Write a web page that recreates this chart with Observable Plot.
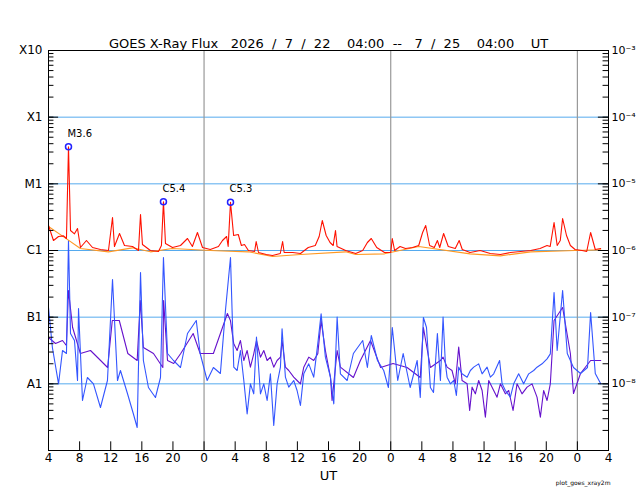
<!DOCTYPE html>
<html><head><meta charset="utf-8">
<script src="https://cdn.jsdelivr.net/npm/d3@7"></script>
<script src="https://cdn.jsdelivr.net/npm/@observablehq/plot@0.6"></script>
<style>body{margin:0;background:#fff;font-family:"DejaVu Sans",sans-serif}</style>
</head><body><div id="c"></div>
<script>
// [hours since 2026-07-22 04:00 UT, log10 flux W/m^2]
const longA = [[0,-5.625],[0.64,-5.85],[1.29,-5.79],[1.93,-5.78],[2.31,-5.82],[2.57,-4.444],[2.83,-5.70],[3.34,-5.75],[3.73,-5.67],[4.11,-5.955],[4.88,-5.85],[5.66,-5.955],[6.68,-5.985],[7.71,-6.0],[8.23,-5.505],[8.48,-5.94],[9.13,-5.745],[9.77,-5.925],[10.8,-5.94],[11.57,-6.0],[11.83,-5.46],[12.08,-5.91],[13.1,-6.0],[14.14,-6.015],[14.52,-5.925],[14.78,-5.268],[15.04,-5.895],[15.94,-5.955],[16.97,-5.925],[17.87,-5.82],[18.5,-5.94],[19.15,-5.73],[19.8,-5.955],[20.8,-5.985],[21.85,-5.94],[22.37,-5.85],[22.9,-5.79],[23.1,-5.94],[23.4,-5.276],[23.8,-5.775],[24.4,-5.76],[24.8,-5.925],[25.2,-5.91],[25.7,-6.0],[26.5,-6.015],[26.7,-5.865],[27.0,-6.03],[28.0,-6.06],[28.8,-6.075],[29.8,-6.045],[30.1,-5.865],[30.3,-6.03],[31.4,-6.03],[32.4,-6.045],[33.4,-5.955],[34.3,-5.925],[34.8,-5.79],[35.2,-5.55],[35.7,-5.775],[36.2,-5.88],[36.6,-5.925],[36.9,-5.70],[37.1,-5.94],[38.2,-6.0],[39.5,-6.045],[40.4,-6.0],[41.0,-5.88],[41.5,-5.82],[42.2,-5.955],[43.2,-6.03],[44.0,-6.03],[44.2,-5.82],[44.5,-6.0],[45.2,-5.94],[45.9,-5.97],[46.8,-5.955],[47.6,-5.925],[48.1,-5.73],[48.5,-5.625],[49.0,-5.925],[49.6,-5.955],[50.0,-5.85],[50.3,-5.955],[50.8,-5.745],[51.4,-5.94],[52.3,-5.97],[52.8,-5.85],[53.2,-5.985],[54.2,-6.03],[55.5,-6.0],[56.8,-6.045],[58.1,-6.06],[59.4,-6.03],[60.7,-6.015],[62.0,-6.0],[63.2,-5.97],[64.1,-5.925],[64.5,-5.94],[65.0,-5.58],[65.4,-5.925],[65.8,-5.85],[66.1,-5.52],[66.6,-5.775],[67.1,-5.925],[67.7,-5.985],[68.6,-6.0],[69.2,-6.015],[69.7,-5.73],[70.3,-5.985],[71.0,-5.97]];
const longB = [[0,-5.64],[2.0,-5.80],[4.1,-5.97],[7.7,-6.02],[10.8,-5.96],[13.1,-6.02],[15.9,-5.97],[20.8,-6.0],[25.7,-6.02],[28.8,-6.09],[32.4,-6.06],[38.2,-6.02],[39.5,-6.06],[43.2,-6.05],[47.6,-5.94],[54.2,-6.05],[58.1,-6.08],[62.0,-6.02],[67.7,-6.0],[71.0,-5.99]];
const shortA = [[0,-6.855],[0.5,-7.455],[1.29,-8.0],[1.8,-7.5],[2.31,-7.545],[2.57,-5.85],[2.83,-7.245],[3.34,-7.35],[3.73,-7.95],[3.86,-6.87],[4.37,-8.25],[5.0,-7.905],[5.78,-8.0],[6.68,-8.355],[7.58,-7.95],[8.23,-6.435],[8.87,-7.95],[9.25,-7.8],[10.15,-8.145],[10.9,-8.445],[11.4,-8.655],[11.83,-6.33],[12.2,-7.65],[12.85,-8.055],[13.75,-8.205],[14.4,-7.905],[14.78,-6.105],[15.3,-7.545],[16.07,-7.65],[16.97,-7.755],[17.87,-7.245],[19.0,-7.05],[19.5,-7.545],[20.4,-7.95],[21.2,-7.755],[22.1,-7.845],[22.75,-6.9],[23.4,-6.105],[23.82,-7.75],[24.25,-7.8],[24.68,-7.5],[25.11,-7.95],[25.54,-8.45],[25.96,-8.0],[26.39,-8.15],[26.74,-7.3],[27.25,-8.15],[27.68,-8.0],[28.11,-8.25],[28.53,-7.85],[28.96,-8.625],[29.39,-8.0],[29.82,-7.75],[30.03,-7.175],[30.46,-7.9],[30.89,-8.05],[31.53,-7.95],[31.96,-8.1],[32.39,-8.325],[32.82,-7.85],[33.46,-7.7],[34.1,-7.9],[34.62,-7.4],[35.05,-6.95],[35.6,-7.6],[36.25,-7.9],[36.68,-8.3],[37.11,-7.0],[37.53,-7.85],[38.4,-7.95],[39.2,-7.545],[40.4,-7.35],[41.0,-7.755],[41.5,-7.275],[42.3,-7.65],[43.1,-7.8],[43.7,-8.055],[44.2,-7.155],[44.9,-7.95],[45.6,-7.545],[46.5,-8.055],[47.4,-7.65],[47.8,-8.205],[48.2,-7.005],[48.6,-7.155],[49.1,-8.055],[49.5,-8.13],[50.0,-7.245],[50.39,-7.95],[50.73,-7.0],[51.03,-7.7],[51.25,-7.9],[51.67,-8.0],[52.1,-7.95],[52.44,-8.175],[52.74,-7.75],[53.17,-7.85],[53.82,-7.9],[54.24,-7.8],[54.67,-7.75],[55.31,-7.7],[55.75,-7.85],[56.39,-7.75],[56.81,-7.9],[57.24,-7.85],[58.0,-7.65],[58.32,-8.0],[58.74,-8.1],[59.38,-8.2],[59.81,-8.0],[60.45,-7.85],[61.09,-8.0],[61.74,-7.85],[62.38,-7.8],[62.81,-7.75],[63.46,-7.7],[64.1,-7.625],[64.52,-7.55],[65.0,-6.63],[65.4,-7.5],[66.1,-6.6],[66.7,-7.545],[67.5,-7.755],[68.4,-7.845],[69.3,-7.755],[69.7,-6.93],[70.3,-7.845],[71.0,-8.0]];
const shortB = [[0,-7.305],[0.9,-7.395],[1.8,-7.35],[2.3,-7.425],[2.57,-6.6],[3.1,-7.155],[4.1,-7.545],[5.4,-7.5],[6.7,-7.65],[7.6,-7.755],[8.2,-7.05],[9.1,-7.05],[10.2,-7.545],[11.4,-7.65],[11.8,-6.75],[12.2,-7.455],[13.5,-7.545],[14.7,-7.755],[14.8,-6.75],[15.3,-7.65],[16.1,-7.695],[17.0,-7.545],[18.6,-7.245],[19.5,-7.545],[21.2,-7.545],[23.0,-6.945],[23.39,-7.05],[23.82,-7.4],[24.25,-7.5],[24.68,-7.35],[25.11,-7.65],[25.54,-7.5],[25.96,-7.75],[26.39,-7.55],[26.74,-7.35],[27.25,-7.6],[27.68,-7.5],[28.11,-7.65],[28.53,-7.6],[28.96,-7.75],[29.39,-7.65],[29.82,-7.6],[30.03,-7.35],[30.46,-7.75],[30.89,-7.8],[31.53,-7.9],[31.96,-7.95],[32.39,-8.0],[32.82,-7.75],[33.46,-7.6],[34.1,-7.65],[34.62,-7.55],[35.05,-7.05],[35.6,-7.5],[36.25,-7.9],[36.46,-8.25],[37.11,-7.5],[37.53,-7.75],[39.2,-7.905],[40.1,-7.65],[41.4,-7.35],[42.7,-7.755],[44.3,-7.695],[46.1,-7.755],[47.8,-7.905],[48.2,-7.155],[49.1,-7.755],[50.39,-7.65],[50.73,-7.6],[51.25,-7.75],[51.88,-7.8],[52.31,-8.0],[52.74,-7.45],[53.17,-7.95],[53.82,-8.0],[54.15,-8.4],[54.46,-8.05],[54.88,-8.15],[55.31,-7.95],[55.75,-8.1],[56.17,-8.5],[56.6,-7.95],[57.24,-8.1],[57.67,-8.2],[58.1,-8.0],[58.74,-8.15],[59.17,-8.1],[59.73,-8.4],[60.24,-8.0],[60.88,-8.15],[61.53,-8.05],[62.17,-8.0],[62.81,-8.2],[63.24,-8.5],[63.66,-8.1],[64.1,-8.25],[64.52,-8.0],[65.0,-7.05],[66.1,-6.855],[67.1,-7.545],[67.5,-8.145],[68.4,-7.845],[69.7,-7.65],[71.0,-7.65]];
const flares = [{t:2.57,v:-4.444,label:"M3.6"},{t:14.78,v:-5.268,label:"C5.4"},{t:23.4,v:-5.276,label:"C5.3"}];
const classLabels = ["X10","X1","M1","C1","B1","A1"];
const rightLabels = ["10⁻³","10⁻⁴","10⁻⁵","10⁻⁶","10⁻⁷","10⁻⁸"];
const decades = [-3,-4,-5,-6,-7,-8];
const dayLines = [20,44,68];
const hourTicks = d3.range(0,73,4);

const P = a => a.map(([t,v]) => ({t, f: 10**v}));
const minor = [];
for (let e=-9;e<-3;e++) for (let m=1;m<10;m++) minor.push(m*10**e);

const chart = Plot.plot({
  width:640, height:500, marginLeft:48, marginRight:32, marginTop:50, marginBottom:50,
  style:{fontFamily:"DejaVu Sans, sans-serif", fontSize:"12px", background:"#fff"},
  x:{domain:[0,72], axis:null},
  y:{type:"log", domain:[1e-9,1e-3], axis:null},
  marks:[
    Plot.ruleY(decades.slice(1).map(e=>10**e), {stroke:"#55aaee", strokeWidth:1}),
    Plot.ruleX(dayLines, {stroke:"#999", strokeWidth:1.2}),
    Plot.line(P(shortB), {x:"t", y:"f", stroke:"#6611cc", strokeWidth:1.1}),
    Plot.line(P(shortA), {x:"t", y:"f", stroke:"#3355ff", strokeWidth:1.1}),
    Plot.line(P(longB), {x:"t", y:"f", stroke:"#ff9922", strokeWidth:1.1}),
    Plot.line(P(longA), {x:"t", y:"f", stroke:"#ff1100", strokeWidth:1.1}),
    Plot.dot(flares, {x:"t", y:d=>10**d.v, r:3, stroke:"#2222ff", fill:"none"}),
    Plot.text(flares, {x:"t", y:d=>10**d.v, text:"label", dy:-13, dx:-1, textAnchor:"start", fontSize:10}),
    Plot.ruleY(minor, {x1:0, x2:0.7, stroke:"#000"}),
    Plot.ruleY(minor, {x1:71.3, x2:72, stroke:"#000"}),
    Plot.ruleY(decades.map(e=>10**e), {x1:0, x2:1.3, stroke:"#000"}),
    Plot.ruleY(decades.map(e=>10**e), {x1:70.7, x2:72, stroke:"#000"}),
    Plot.ruleX(hourTicks, {y1:1e-9, y2:10**-8.87, stroke:"#000"}),
    Plot.text(hourTicks, {x:d=>d, text:d=>String((d+4)%24), frameAnchor:"bottom", dy:11, fontSize:12}),
    Plot.text(decades, {x:0, y:d=>10**d, text:(d,i)=>classLabels[i], dx:-6, textAnchor:"end", fontSize:12}),
    Plot.text(decades, {x:72, y:d=>10**d, text:(d,i)=>rightLabels[i], dx:3, textAnchor:"start", fontSize:11}),
    Plot.text(["GOES X-Ray Flux   2026  /  7  /  22    04:00  --   7  /  25    04:00    UT"], {frameAnchor:"top", dy:-12, fontSize:13}),
    Plot.text(["UT"], {frameAnchor:"bottom", dy:29, fontSize:13}),
    Plot.text(["plot_goes_xray2m"], {frameAnchor:"bottom-right", dy:34, dx:2, textAnchor:"end", fontSize:6}),
    Plot.frame({stroke:"#000"})
  ]
});
document.getElementById("c").appendChild(chart);
</script></body></html>
